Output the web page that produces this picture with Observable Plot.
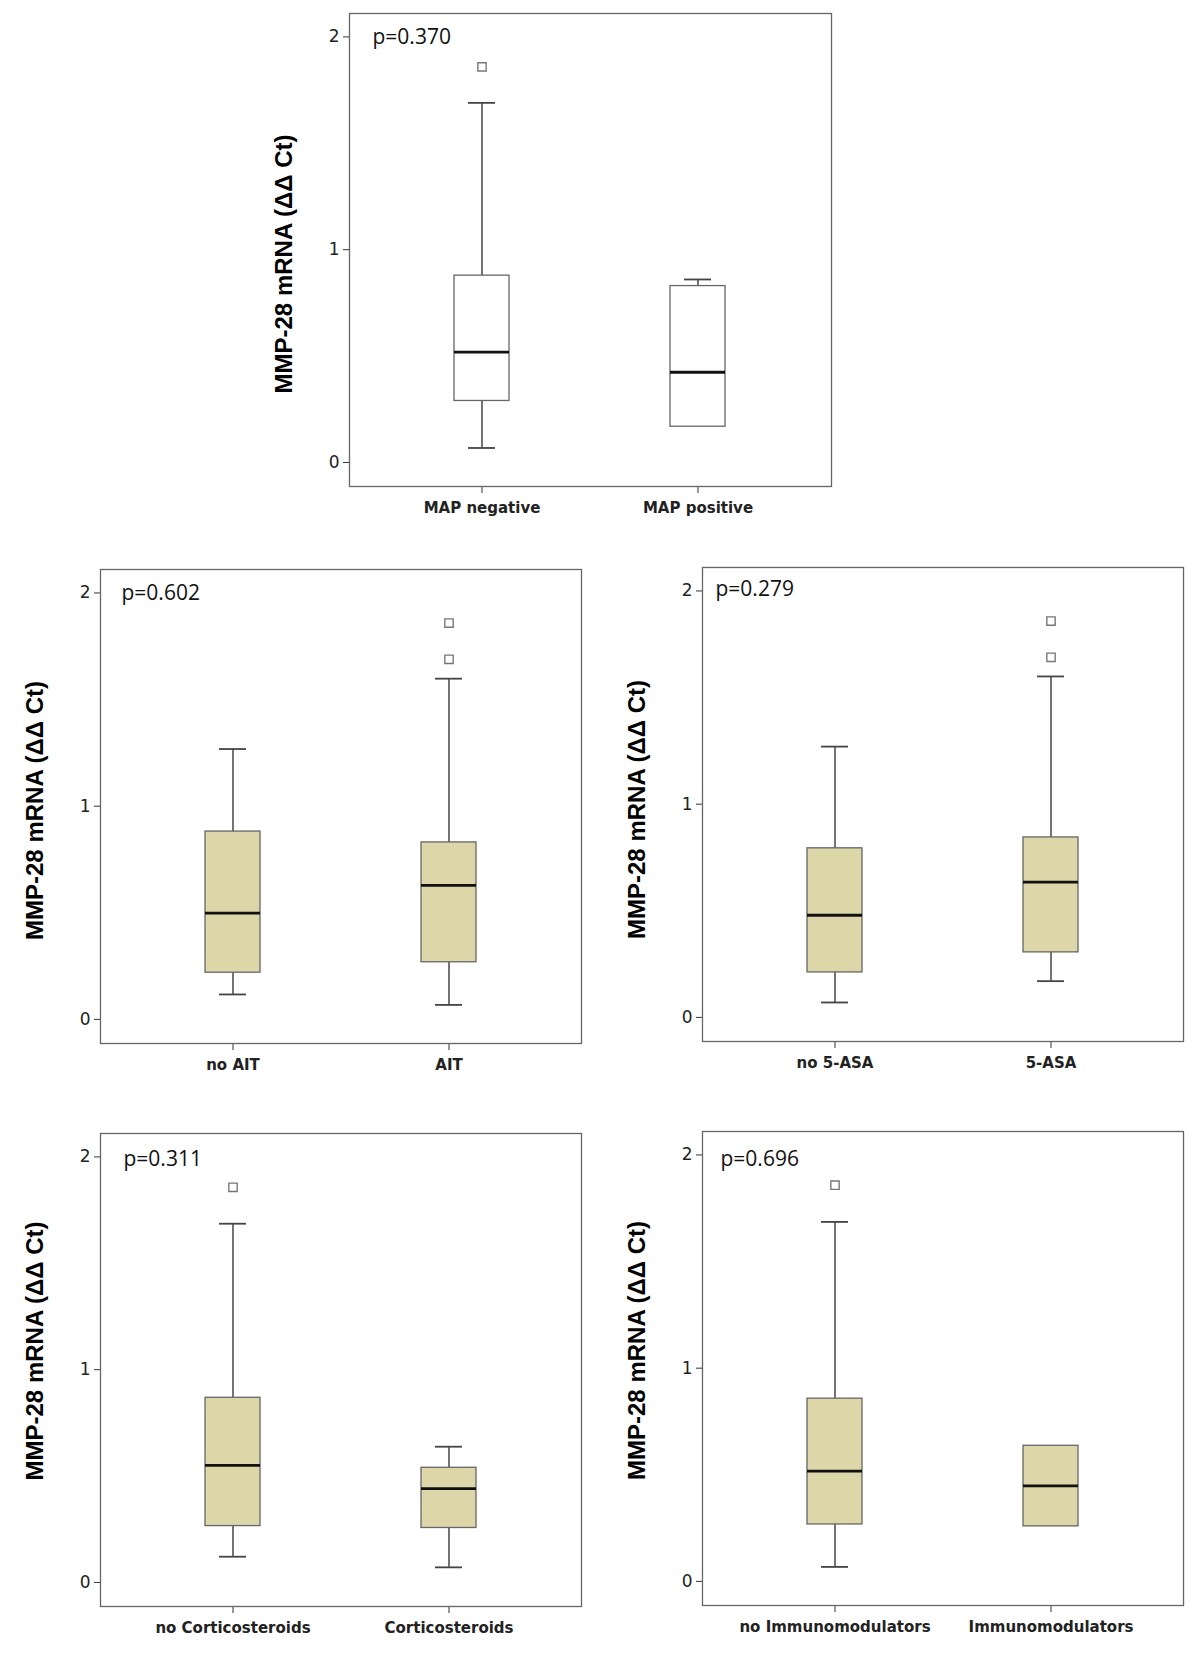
<!DOCTYPE html>
<html><head><meta charset="utf-8">
<script src="https://cdn.jsdelivr.net/npm/d3@7"></script>
<script src="https://cdn.jsdelivr.net/npm/@observablehq/plot@0.6"></script>
<style>
body{margin:0;background:#fff}
#wrap{position:relative;width:1200px;height:1653px;overflow:hidden}
.panel{position:absolute}
.panel svg{overflow:visible}
.panel [aria-label="y-axis label"]{translate:0 var(--ly)}
.panel [aria-label="y-axis label"] text{font:bold 24px "Liberation Sans",Arial,sans-serif;fill:#000}
.panel [aria-label="x-axis tick label"] text{font-weight:bold;font-size:15px;fill:#222}
.panel [aria-label="y-axis tick label"] text{font-size:17px;fill:#222}
</style></head>
<body><div id="wrap"></div>
<script>
const yLabel = "MMP-28 mRNA (ΔΔ Ct)";
const yTicks = [0, 1, 2];
const yDomain = [-0.113, 2.11];

// stats order: [lower whisker, Q1, median, Q3, upper whisker]
const mapGroups = ["MAP negative", "MAP positive"];
const mapStats = [[0.068, 0.289, 0.519, 0.878, 1.690], [0.168, 0.168, 0.424, 0.829, 0.860]];
const mapOutliers = [["MAP negative", 1.859]];
const mapP = "p=0.370";

const aitGroups = ["no AIT", "AIT"];
const aitStats = [[0.117, 0.219, 0.498, 0.881, 1.268], [0.068, 0.268, 0.629, 0.830, 1.598]];
const aitOutliers = [["AIT", 1.859], ["AIT", 1.689]];
const aitP = "p=0.602";

const asaGroups = ["no 5-ASA", "5-ASA"];
const asaStats = [[0.070, 0.211, 0.479, 0.793, 1.270], [0.170, 0.305, 0.634, 0.844, 1.599]];
const asaOutliers = [["5-ASA", 1.859], ["5-ASA", 1.689]];
const asaP = "p=0.279";

const corGroups = ["no Corticosteroids", "Corticosteroids"];
const corStats = [[0.121, 0.265, 0.550, 0.868, 1.686], [0.071, 0.256, 0.441, 0.539, 0.638]];
const corOutliers = [["no Corticosteroids", 1.857]];
const corP = "p=0.311";

const immGroups = ["no Immunomodulators", "Immunomodulators"];
const immStats = [[0.068, 0.267, 0.517, 0.857, 1.686], [0.258, 0.258, 0.448, 0.636, 0.636]];
const immOutliers = [["no Immunomodulators", 1.858]];
const immP = "p=0.696";

const white = "#ffffff", tan = "#dcd6a9";

const panels = [
  {groups: mapGroups, stats: mapStats, outliers: mapOutliers, p: mapP, fill: white, left: 249, top: 0, width: 610, height: 530, mt: 13, mb: 44, ml: 100, mr: 28, pdx: 23, pdy: 24, ly: 14},
  {groups: aitGroups, stats: aitStats, outliers: aitOutliers, p: aitP, fill: tan, left: 0, top: 545, width: 600, height: 540, mt: 24, mb: 42, ml: 100, mr: 19, pdx: 21, pdy: 24, ly: 4},
  {groups: asaGroups, stats: asaStats, outliers: asaOutliers, p: asaP, fill: tan, left: 600, top: 545, width: 600, height: 540, mt: 22, mb: 44, ml: 102, mr: 17, pdx: 13, pdy: 22, ly: 5},
  {groups: corGroups, stats: corStats, outliers: corOutliers, p: corP, fill: tan, left: 0, top: 1105, width: 600, height: 548, mt: 28, mb: 47, ml: 100, mr: 19, pdx: 23, pdy: 26, ly: -19},
  {groups: immGroups, stats: immStats, outliers: immOutliers, p: immP, fill: tan, left: 600, top: 1105, width: 600, height: 548, mt: 26, mb: 48, ml: 102, mr: 17, pdx: 18, pdy: 28, ly: -18}
];

const wrap = document.getElementById("wrap");
for (const P of panels) {
  const rows = P.groups.map((g, i) => ({g, low: P.stats[i][0], q1: P.stats[i][1], med: P.stats[i][2], q3: P.stats[i][3], high: P.stats[i][4]}));
  const lowRows = rows.filter(d => d.low < d.q1);
  const highRows = rows.filter(d => d.high > d.q3);
  const chart = Plot.plot({
    width: P.width, height: P.height,
    marginTop: P.mt, marginBottom: P.mb, marginLeft: P.ml, marginRight: P.mr,
    style: {fontFamily: "'DejaVu Sans', sans-serif", fontSize: "16px", color: "#333", background: "transparent"},
    x: {type: "band", domain: P.groups, paddingInner: 0.745, paddingOuter: 0.485, tickSize: 7, tickPadding: 9, label: null},
    y: {domain: yDomain, ticks: yTicks, tickSize: 6, tickPadding: 4, tickFormat: d3.format("d"), label: yLabel, labelArrow: "none", labelAnchor: "center", labelOffset: 75},
    marks: [
      Plot.ruleX(lowRows, {x: "g", y1: "low", y2: "q1", stroke: "#444", strokeWidth: 1.5}),
      Plot.ruleX(highRows, {x: "g", y1: "q3", y2: "high", stroke: "#444", strokeWidth: 1.5}),
      Plot.barY(rows, {x: "g", y1: "q1", y2: "q3", fill: P.fill, stroke: "#666", strokeWidth: 1.3}),
      Plot.tickY(rows, {x: "g", y: "med", stroke: "#111", strokeWidth: 2.8}),
      Plot.tickY(lowRows, {x: "g", y: "low", insetLeft: 14, insetRight: 14, stroke: "#444", strokeWidth: 1.8}),
      Plot.tickY(highRows, {x: "g", y: "high", insetLeft: 14, insetRight: 14, stroke: "#444", strokeWidth: 1.8}),
      Plot.dot(P.outliers, {x: d => d[0], y: d => d[1], symbol: "square", r: 4.7, stroke: "#777", strokeWidth: 1.4, fill: "white"}),
      Plot.text([P.p], {text: d => d, frameAnchor: "top-left", dx: P.pdx, dy: P.pdy, textAnchor: "start", lineAnchor: "middle", fontFamily: "'Open Sans', sans-serif", fontSize: 21, fill: "#111"}),
      Plot.frame({stroke: "#666", strokeWidth: 1.3})
    ]
  });
  const div = document.createElement("div");
  div.className = "panel";
  div.style.left = P.left + "px";
  div.style.top = P.top + "px";
  div.style.setProperty("--ly", P.ly + "px");
  div.appendChild(chart);
  wrap.appendChild(div);
}
</script>
</body></html>
